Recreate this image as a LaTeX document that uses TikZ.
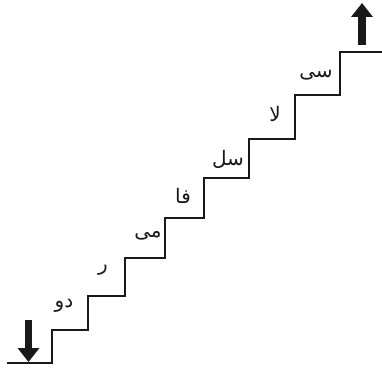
\documentclass[tikz,border=0pt]{standalone}
\usepackage{fontspec}
\usetikzlibrary{arrows.meta}
\TeXXeTstate=1
\newfontfamily\arabicfont[Script=Arabic]{DejaVu Sans}
\tikzset{
  stair/.style={line width=2.2pt, draw=black!90, line join=miter},
  bigarrow/.style={line width=7.5pt, draw=black!90, -{Triangle[width=21pt,length=14pt]}},
  note/.style={font=\arabicfont\fontsize{20}{24}\selectfont, inner sep=0pt, text=black!90},
}
\begin{document}
\begin{tikzpicture}[x=1pt,y=-1pt]
\useasboundingbox (0,0) rectangle (382,369);
% staircase
\draw[stair] (7,363) -- (52,363) -- (52,330) -- (88,330) -- (88,296) -- (125,296)
  -- (125,258) -- (165,258) -- (165,218) -- (204,218) -- (204,178) -- (249,178)
  -- (249,139) -- (295,139) -- (295,95) -- (340,95) -- (340,52) -- (382,52);
% arrows
\coordinate (dtop) at (28.5,320);
\coordinate (dbot) at (28.5,362);
\coordinate (ubot) at (362,45);
\coordinate (utop) at (362,3);
\draw[bigarrow] (dtop) -- (dbot);
\draw[bigarrow] (ubot) -- (utop);
% labels
\node[note] (do) at (64,306) {\beginR دو\endR};
\node[note] (re) at (103,270) {\beginR ر\endR};
\node[note] (mi) at (148,236) {\beginR می\endR};
\node[note] (fa) at (183,196) {\beginR فا\endR};
\node[note] (sol) at (228,159) {\beginR سل\endR};
\node[note] (la) at (275,114) {\beginR لا\endR};
\node[note] (si) at (316,75) {\beginR سی\endR};
\end{tikzpicture}
\end{document}
